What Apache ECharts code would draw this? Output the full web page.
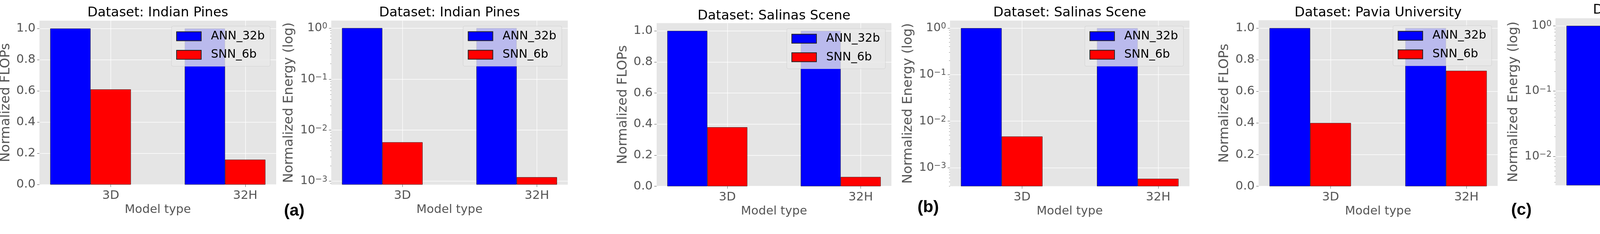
<!DOCTYPE html>
<html lang="en">
<head>
<meta charset="UTF-8">
<title>Normalized FLOPs and Energy</title>
<script src="https://cdn.jsdelivr.net/npm/echarts@6/dist/echarts.min.js"></script>
<style>
    html, body { margin: 0; padding: 0; background: #ffffff; }
    #chart { width: 4602px; height: 600px; }
</style>
</head>
<body>
<div id="chart"></div>
<script>
// values, one row per dataset, one entry per model type
var modelTypes = ['3D', '32H'];
var datasets = ['Indian Pines', 'Salinas Scene', 'Pavia University'];
var seriesNames = ['ANN_32b', 'SNN_6b'];
var annFlops = [[1.0, 1.0], [1.0, 1.0], [1.0, 1.0]];
var snnFlops = [[0.61, 0.16], [0.38, 0.06], [0.40, 0.73]];
var annEnergy = [[1.0, 1.0], [1.0, 1.0], [1.0, 1.0]];
var snnEnergy = [[0.0058, 0.0012], [0.0047, 0.00058], [0.0047, 0.0048]];
var flopsTicks = [0, 0.2, 0.4, 0.6, 0.8, 1.0];
var energyTicks = [1e-3, 1e-2, 1e-1, 1];
var panelTags = ['(a)', '(b)', '(c)'];

var FONT = 'DejaVu Sans';
var W = 4602;
var barW = 0.3;           // bar width in x units, like matplotlib
var colors = ['#0000ff', '#ff0000'];

// layout: plot box [left, top, right, bottom] per panel
var plotBoxes = [
    [101, 53, 707, 473.4],
    [848, 52.8, 1453.5, 473.4],
    [1681, 59.3, 2282, 477.6],
    [2432, 52.8, 3045, 477.6],
    [3222, 51.7, 3834, 477.6],
    [3982, 46.7, 4602, 475.3]
];
var titleTops = [16.5, 16, 24.3, 16.5, 16.5, 9];
var yNameGaps = [69, 90.5, 68.7, 90, 70, 89.5];
var tagSpots = [[727, 520], [2348.7, 510.6], [3868.5, 517.6]];

var supDigits = {'-': '\u2212'};
function pow10Label(e) {
    var exp = String(Math.round(e)).split('').map(function (c) { return supDigits[c] || c; }).join('');
    return '{b|10}{s|' + exp + '}';
}

var nCat = modelTypes.length;
var xSpan = (nCat - 1) + 2 * barW;
var xMin = -1.5 * barW - 0.05 * xSpan;
var xMax = (nCat - 1) + 0.5 * barW + 0.05 * xSpan;
var catPos = modelTypes.map(function (_, k) { return k; });

var tickStyle = {length: 6, lineStyle: {color: '#555555', width: 1}};
var gridLine = {show: true, lineStyle: {color: '#ffffff', width: 1.3}};
var labelStyle = {color: '#555555', fontSize: 31, fontFamily: FONT};

var grids = [], xAxes = [], yAxes = [], series = [], legends = [], titles = [];

plotBoxes.forEach(function (box, i) {
    var d = Math.floor(i / 2);
    var isLog = i % 2 === 1;
    var ann = isLog ? annEnergy[d] : annFlops[d];
    var snn = isLog ? snnEnergy[d] : snnFlops[d];

    grids.push({
        left: box[0], top: box[1], width: box[2] - box[0], height: box[3] - box[1],
        show: true, backgroundColor: '#e5e5e5', borderWidth: 0,
        containLabel: false, outerBoundsMode: 'none'
    });

    xAxes.push({
        gridIndex: i, type: 'value', min: xMin, max: xMax,
        axisLine: {show: false, onZero: false},
        axisTick: Object.assign({customValues: catPos}, tickStyle),
        axisLabel: Object.assign({customValues: catPos, margin: 13,
            formatter: function (v) { return modelTypes[Math.round(v)]; }}, labelStyle),
        splitLine: gridLine,
        name: 'Model type', nameLocation: 'middle', nameGap: 48,
        nameTextStyle: {color: '#555555', fontSize: 30.5, fontFamily: FONT}
    });

    var yIndex = yAxes.length;
    var yName = {
        nameLocation: 'middle', nameGap: yNameGaps[i],
        nameTextStyle: {color: '#555555', fontSize: 34, fontFamily: FONT}
    };
    if (!isLog) {
        var yMax = 1.05 * Math.max.apply(null, ann.concat(snn));
        yAxes.push(Object.assign({
            gridIndex: i, type: 'value', position: 'left', min: 0, max: yMax,
            axisLine: {show: false, onZero: false},
            axisTick: Object.assign({customValues: flopsTicks}, tickStyle),
            axisLabel: Object.assign({customValues: flopsTicks, margin: 10,
                formatter: function (v) { return v.toFixed(1); }}, labelStyle),
            splitLine: gridLine,
            name: 'Normalized FLOPs'
        }, yName));
    } else {
        var all = ann.concat(snn);
        var lo = Math.log10(Math.min.apply(null, all));
        var hi = Math.log10(Math.max.apply(null, all));
        var pad = 0.05 * (hi - lo);
        lo -= pad; hi += pad;
        // log axis that places the bars
        yAxes.push({
            gridIndex: i, type: 'log', position: 'left', show: false,
            min: Math.pow(10, lo), max: Math.pow(10, hi), startValue: Math.pow(10, lo),
            axisLine: {onZero: false}
        });
        // decade ticks, labels and grid lines, drawn on the exponent scale
        var majors = energyTicks.map(Math.log10).filter(function (e) { return e >= lo && e <= hi; });
        yAxes.push(Object.assign({
            gridIndex: i, type: 'value', position: 'left', min: lo, max: hi,
            axisLine: {show: false, onZero: false},
            axisTick: Object.assign({customValues: majors}, tickStyle),
            axisLabel: {
                customValues: majors, margin: 10, formatter: pow10Label,
                color: '#555555', fontFamily: FONT,
                rich: {
                    b: {fontSize: 30, color: '#555555', fontFamily: FONT},
                    s: {fontSize: 21, color: '#555555', fontFamily: FONT, verticalAlign: 'top'}
                }
            },
            splitLine: gridLine,
            name: 'Normalized Energy (log)'
        }, yName));
        // minor ticks
        var minors = [];
        for (var n = Math.floor(lo); n < Math.ceil(hi); n++) {
            for (var k = 2; k < 10; k++) {
                var e = n + Math.log10(k);
                if (e >= lo && e <= hi) minors.push(e);
            }
        }
        yAxes.push({
            gridIndex: i, type: 'value', position: 'left', min: lo, max: hi,
            axisLine: {show: false, onZero: false},
            axisTick: {customValues: minors, length: 2.5, lineStyle: {color: '#555555', width: 0.8}},
            axisLabel: {show: false},
            splitLine: {show: false}
        });
    }

    [ann, snn].forEach(function (vals, s) {
        series.push({
            type: 'bar', name: seriesNames[s], xAxisIndex: i, yAxisIndex: yIndex,
            barWidth: '100%', barGap: '-100%',
            itemStyle: {color: colors[s], borderColor: '#222222', borderWidth: 0.8},
            data: vals.map(function (v, k) { return [k - (s === 0 ? barW : 0), v]; })
        });
    });

    legends.push({
        orient: 'vertical', right: W - (box[2] - 15.3), top: box[1] + 14,
        data: seriesNames, icon: 'rect', selectedMode: false,
        itemWidth: 63, itemHeight: 23, itemGap: 17.5,
        padding: [11, 14, 14.5, 12],
        backgroundColor: 'rgba(232,232,232,0.8)', borderColor: 'rgba(204,204,204,0.8)',
        borderWidth: 1, borderRadius: 4,
        textStyle: {fontSize: 30, color: '#000000', fontFamily: FONT, padding: [0, 0, 0, 20]}
    });

    titles.push({
        text: 'Dataset: ' + datasets[d], left: (box[0] + box[2]) / 2, top: titleTops[i],
        textAlign: 'center', padding: 0,
        textStyle: {fontSize: 34, fontWeight: 'normal', color: '#000000', fontFamily: FONT}
    });
});

var chart = echarts.init(document.getElementById('chart'));
chart.setOption({
    animation: false,
    backgroundColor: '#ffffff',
    title: titles,
    grid: grids,
    xAxis: xAxes,
    yAxis: yAxes,
    legend: legends,
    series: series,
    graphic: tagSpots.map(function (p, k) {
        return {
            type: 'text', left: p[0], top: p[1],
            style: {text: panelTags[k], font: 'bold 43px "Liberation Sans"', fill: '#000000'}
        };
    })
});
</script>
</body>
</html>
